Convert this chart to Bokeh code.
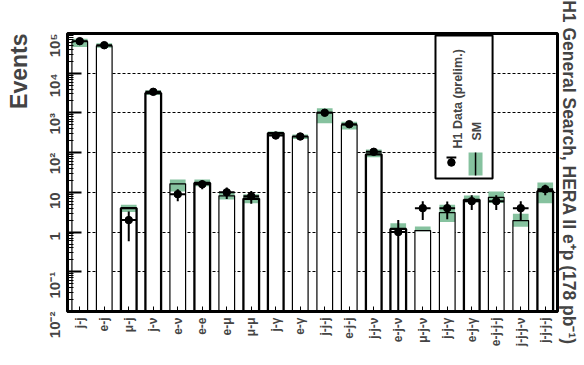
import math
from bokeh.plotting import figure
from bokeh.models import (FactorRange, Range1d, FixedTicker, CustomJSTickFormatter,
                          Label, ColumnDataSource, Title)
from bokeh.embed import file_html
from bokeh.resources import INLINE

# ---------------- data ----------------
categories = ["j-j", "e-j", "μ-j", "j-ν", "e-ν", "e-e", "e-μ", "μ-μ", "j-γ", "e-γ",
              "j-j-j", "e-j-j", "j-j-ν", "e-j-ν", "μ-j-ν", "j-j-γ", "e-j-γ",
              "e-j-j-j", "j-j-j-ν", "j-j-j-j"]
sm_events = [6.3e4, 4.9e4, 4.0, 3160, 16.4, 17.3, 8.2, 6.9, 308, 255,
             1040, 500, 90, 1.2, 1.09, 3.1, 6.5, 7.5, 1.95, 10.7]
sm_band_low = [4.6e4, 4.4e4, 3.2, 2820, 10.5, 14.3, 6.6, 5.3, 270, 220,
               550, 380, 77, 1.15, 1.05, 1.8, 5.6, 5.4, 1.37, 5.3]
sm_band_high = [7.4e4, 5.7e4, 4.9, 3720, 21, 21, 9.7, 9.0, 340, 285,
                1310, 600, 120, 1.66, 1.38, 4.9, 8.3, 10.5, 2.9, 17.7]
data_events = [6.4e4, 5.07e4, 2, 3400, 9, 16, 10, 8, 270, 255,
               1010, 520, 105, 1, 4, 4, 6, 6, 4, 12]
data_low = [6.37e4, 5.05e4, 0.59, 3340, 6.0, 12, 6.8, 5.2, 254, 239,
            978, 497, 95, 0, 2.0, 2.1, 3.6, 3.6, 2.0, 8.5]
data_high = [6.43e4, 5.09e4, 3.3, 3460, 12.0, 20, 13.2, 10.8, 286, 271,
             1042, 543, 115, 2.0, 6.0, 5.9, 8.4, 8.4, 6.0, 15.5]
y_tick_values = [1e-2, 1e-1, 1, 10, 1e2, 1e3, 1e4, 1e5]
caption = "H1 General Search, HERA II e\u207ap (178 pb\u207b\u00b9)"

# ---------------- styles ----------------
GREEN = "#86c29f"
FONT = "Liberation Sans"
thick_bar = [False, False, True, True, False, True, False, True, True, False,
             False, False, True, True, False, False, True, False, False, True]
Y_START, Y_END = 1e-2, 1e5

p = figure(x_range=FactorRange(factors=categories, range_padding=0),
           y_range=Range1d(Y_START, Y_END), y_axis_type="log",
           frame_width=490, frame_height=278,
           min_border_left=65, min_border_right=29, min_border_top=33, min_border_bottom=54,
           output_backend="svg", toolbar_location=None)
p.background_fill_color = "white"
p.border_fill_color = "white"
p.outline_line_color = "black"
p.outline_line_width = 3

src = ColumnDataSource(dict(
    cat=categories, sm=sm_events, lo=sm_band_low, hi=sm_band_high,
    base=[Y_START / 10] * len(categories),
    lw=[2.3 if t else 1.2 for t in thick_bar],
    d=data_events,
    dlo=[v if v > 0 else Y_START / 10 for v in data_low],
    dhi=data_high,
))

BW = 0.64
p.vbar(x="cat", top="sm", bottom="base", width=BW, source=src,
       fill_color="white", line_color=None)
p.vbar(x="cat", top="hi", bottom="lo", width=BW, source=src,
       fill_color=GREEN, line_color=None)
p.vbar(x="cat", top="sm", bottom="base", width=BW, source=src,
       fill_color=None, line_color="black", line_width="lw")

p.segment(x0="cat", y0="dlo", x1="cat", y1="dhi", source=src,
          line_color="black", line_width=2)
p.rect(x="cat", y="d", width=BW, height=2, height_units="screen", source=src,
       fill_color="black", line_color=None)
p.scatter(x="cat", y="d", source=src, size=7.5, marker="circle",
          fill_color="black", line_color="black")

yax = p.yaxis[0]
yax.ticker = FixedTicker(ticks=y_tick_values,
                         minor_ticks=[m * 10.0 ** k for k in range(-2, 5) for m in range(2, 10)])
yax.formatter = CustomJSTickFormatter(code="""
const e = Math.round(Math.log10(tick));
const sup = {"-":"\u207b","0":"\u2070","1":"\u00b9","2":"\u00b2","3":"\u00b3","4":"\u2074","5":"\u2075","6":"\u2076","7":"\u2077","8":"\u2078","9":"\u2079"};
if (e == 0) return "1";
if (e == 1) return "10";
return "10" + String(e).split("").map(c => sup[c]).join("");
""")
yax.major_label_orientation = math.pi / 2
yax.major_label_text_font = FONT
yax.major_label_text_font_style = "bold"
yax.major_label_text_font_size = "15px"
yax.major_label_standoff = 13
yax.major_tick_in = 14
yax.major_tick_out = 0
yax.major_tick_line_width = 2
yax.minor_tick_in = 6
yax.minor_tick_out = 0
yax.minor_tick_line_width = 1
yax.axis_line_width = 2

xax = p.xaxis[0]
xax.major_label_orientation = math.pi / 2
xax.major_label_text_font = FONT
xax.major_label_text_font_style = "bold"
xax.major_label_text_font_size = "12px"
xax.major_label_standoff = 6
xax.major_tick_in = 5
xax.major_tick_out = 0
xax.axis_line_width = 3

p.xgrid.grid_line_color = None
p.ygrid.grid_line_color = "black"
p.ygrid.grid_line_dash = "3 2"
p.ygrid.grid_line_width = 1

# legend (rotated, drawn by hand)
p.quad(left=[15.02], right=[17.35], top=[8.9e4], bottom=[22.3],
       fill_color="white", line_color="black", line_width=2)
p.add_layout(Label(x=15.92, y=127, text="H1 Data (prelim.)", angle=math.pi / 2,
                   text_font=FONT, text_font_style="bold", text_font_size="12.5px",
                   text_align="left", text_baseline="alphabetic"))
p.scatter(x=[15.67], y=[56.4], size=7.5, marker="circle", fill_color="black", line_color="black")
p.segment(x0=[15.67], y0=[56.4], x1=[15.67], y1=[76], line_color="black", line_width=2)
p.segment(x0=[15.47], y0=[76], x1=[15.87], y1=[76], line_color="black", line_width=2)
p.quad(left=[16.37], right=[16.94], top=[100.7], bottom=[26.5], fill_color=GREEN, line_color=None)
p.segment(x0=[16.655], y0=[100.7], x1=[16.655], y1=[26.5], line_color="black", line_width=1.5)
p.add_layout(Label(x=16.73, y=202, text="SM", angle=math.pi / 2,
                   text_font=FONT, text_font_style="bold", text_font_size="12.5px",
                   text_align="left", text_baseline="alphabetic"))

# "Events" on the left, aligned to the top of the frame
p.add_layout(Title(text="Events", align="right", text_font=FONT, text_font_style="bold",
                   text_font_size="23px", standoff=6), "left")

# right-hand vertical caption as a side title
p.add_layout(Title(text=caption, align="center", text_font=FONT, text_font_style="bold",
                   text_font_size="17.5px", standoff=2), "right")

with open("out.html", "w", encoding="utf-8") as f:
    f.write(file_html(p, INLINE))
